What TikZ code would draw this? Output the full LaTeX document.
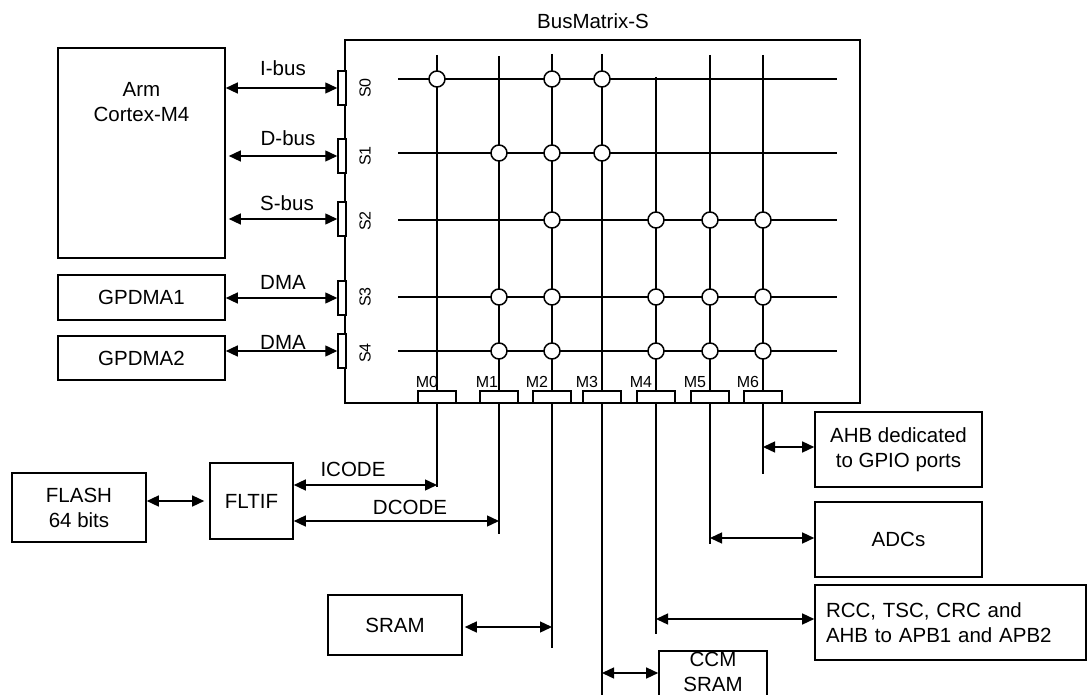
\documentclass[tikz,border=0pt]{standalone}
\usepackage{fontspec}
\setmainfont{Liberation Sans}
\usetikzlibrary{arrows.meta,calc}
\begin{document}
\begin{tikzpicture}[x=1pt,y=-1pt,
  blk/.style={draw,line width=1.6pt,rectangle,inner sep=0pt,font=\fontsize{20.5}{25}\selectfont,align=center},
  bus/.style={line width=1.8pt},
  dbl/.style={line width=1.4pt,{Triangle[length=12pt,width=11pt]}-{Triangle[length=12pt,width=11pt]}},
  lbl/.style={font=\fontsize{20.5}{25}\selectfont,inner sep=0pt,align=center},
  plbl/.style={font=\fontsize{16}{18}\selectfont,inner sep=0pt},
  sport/.style={draw,line width=1.5pt,fill=white,minimum width=8pt,minimum height=34pt,inner sep=0pt},
  mport/.style={draw,line width=1.5pt,fill=white,minimum width=38pt,minimum height=12pt,inner sep=0pt},
  jn/.style={circle,draw,line width=1.5pt,fill=white,minimum size=16pt,inner sep=0pt}
]
\useasboundingbox (0,0) rectangle (1088,695);
\fill[white] (0,0) rectangle (1088,695);
\clip (0,0) rectangle (1088,695);

% BusMatrix box
\node[draw,line width=1.6pt,minimum width=515pt,minimum height=363pt,inner sep=0pt] (bm) at (602.5,221.5) {};
\node[lbl] (bmt) at (593,21) {BusMatrix-S};

% masters/slaves boxes
\node[blk,minimum width=167pt,minimum height=210pt] (arm) at (141.5,153) {};
\node[lbl] (arml) at (141.5,102) {Arm\\Cortex-M4};
\node[blk,minimum width=167pt,minimum height=45pt] (gpdma1) at (141.5,297.5) {GPDMA1};
\node[blk,minimum width=167pt,minimum height=44pt] (gpdma2) at (141.5,358) {GPDMA2};
\node[blk,minimum width=134pt,minimum height=69pt] (flash) at (79,507.5) {FLASH\\64 bits};
\node[blk,minimum width=83pt,minimum height=76pt] (fltif) at (251.5,501) {FLTIF};
\node[blk,minimum width=134pt,minimum height=60pt] (sram) at (395,625) {SRAM};
\node[blk,minimum width=108pt,minimum height=48pt] (ccm) at (713,675) {};
\node[lbl] (ccml) at (713,672) {CCM\\SRAM};
\node[blk,minimum width=167pt,minimum height=75pt] (ahb) at (898.5,449.5) {AHB dedicated\\to GPIO ports};
\node[blk,minimum width=167pt,minimum height=75pt] (adc) at (898.5,539.5) {ADCs};
\node[blk,minimum width=271pt,minimum height=75pt,text width=249pt,align=left] (rcc) at (950.5,622.5) {RCC, TSC, CRC and\\AHB to APB1 and APB2};

% rows
\foreach \ri/\ry in {0/79,1/153,2/220,3/297,4/351}{
  \coordinate (rowW\ri) at (398,\ry);
  \coordinate (rowE\ri) at (837,\ry);
  \draw[bus] (rowW\ri) -- (rowE\ri);
}
% columns
\foreach \ci/\cx/\ct/\cb/\lx in {0/437/55/487/427, 1/499/56/534/487, 2/552/54/648/537, 3/602/54/702/587, 4/656/77/634/641, 5/710/55/544/695, 6/763/55/474/748}{
  \coordinate (colT\ci) at (\cx,\ct);
  \coordinate (colB\ci) at (\cx,\cb);
  \draw[bus] (colT\ci) -- (colB\ci);
  \node[mport] (mp\ci) at (\cx,397) {};
  \node[plbl] (ml\ci) at (\lx,382) {M\ci};
}
% slave ports
\foreach \ri/\py/\ly in {0/88/88,1/156/156,2/219/221,3/298/297,4/351/353}{
  \node[sport] (sp\ri) at (342,\py) {};
  \node[plbl,rotate=90] (sl\ri) at (365,\ly) {S\ri};
}
% junctions
\foreach \ri/\cj in {0/0,0/2,0/3,1/1,1/2,1/3,2/2,2/4,2/5,2/6,3/1,3/2,3/4,3/5,3/6,4/1,4/2,4/4,4/5,4/6}{
  \node[jn] (j\ri\cj) at (colT\cj |- rowW\ri) {};
}

% master buses
\draw[dbl] (sp0.west -| arm.east) -- (sp0.west);
\draw[dbl,shorten <=3pt] (sp1.west -| arm.east) -- (sp1.west);
\draw[dbl,shorten <=3pt] (sp2.west -| arm.east) -- (sp2.west);
\draw[dbl] (sp3.west -| gpdma1.east) -- (sp3.west);
\draw[dbl] (sp4.west -| gpdma2.east) -- (sp4.west);
\node[lbl] (ibus) at (283,68) {I-bus};
\node[lbl] (dbus) at (288,138) {D-bus};
\node[lbl] (sbus) at (287,203) {S-bus};
\node[lbl] (dma1) at (283,282) {DMA};
\node[lbl] (dma2) at (283,342) {DMA};

% taps
\coordinate (m0tap) at (437,485);
\coordinate (m1tap) at (499,521);
\coordinate (m2tap) at (552,627);
\coordinate (m3tap) at (602,673);
\coordinate (m4tap) at (656,619);
\coordinate (m5tap) at (710,538);
\coordinate (m6tap) at (763,447);

\draw[dbl,shorten >=5pt] (fltif.west -| flash.east) -- (fltif.west);
\draw[dbl] (m0tap -| fltif.east) -- (m0tap);
\draw[dbl] (m1tap -| fltif.east) -- (m1tap);
\node[lbl] (icode) at (353,469) {ICODE};
\node[lbl] (dcode) at (410,507) {DCODE};
\draw[dbl,shorten <=2pt] (m2tap -| sram.east) -- (m2tap);
\draw[dbl] (m3tap) -- (m3tap -| ccm.west);
\draw[dbl] (m4tap) -- (m4tap -| rcc.west);
\draw[dbl] (m5tap) -- (m5tap -| adc.west);
\draw[dbl] (m6tap) -- (m6tap -| ahb.west);
\end{tikzpicture}
\end{document}
